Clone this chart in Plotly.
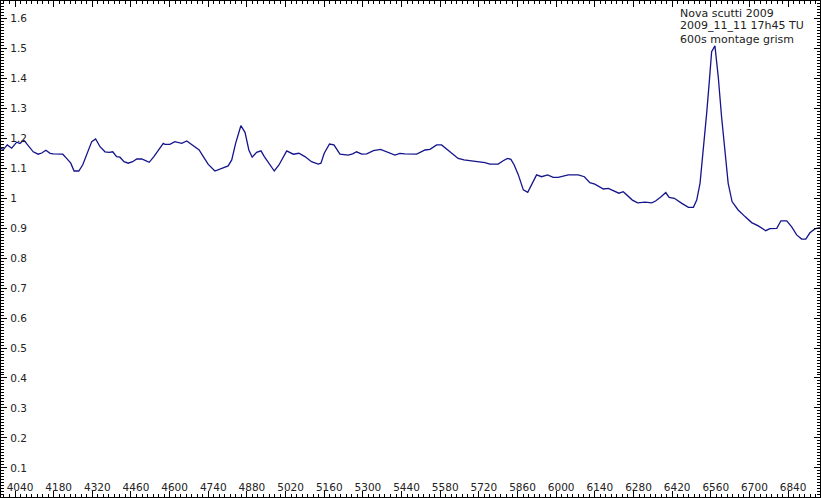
import plotly.graph_objs as go

# spectrum (wavelength in Angstrom, relative flux)
wavelength = [3986, 3998, 4012, 4028, 4046, 4058, 4072, 4082, 4106, 4124,
              4137, 4152, 4167, 4179, 4213, 4227, 4242, 4254, 4271, 4285,
              4302, 4318, 4332, 4348, 4366, 4381, 4394, 4408, 4420, 4435,
              4450, 4466, 4481, 4499, 4517, 4526, 4543, 4559, 4577, 4583,
              4601, 4619, 4644, 4662, 4674, 4692, 4707, 4722, 4740, 4764,
              4782, 4800, 4812, 4825, 4839, 4858, 4873, 4887, 4899, 4915,
              4931, 4943, 4963, 4979, 4996, 5024, 5048, 5068, 5090, 5114,
              5138, 5148, 5160, 5179, 5195, 5217, 5247, 5263, 5277, 5296,
              5314, 5338, 5364, 5386, 5416, 5434, 5452, 5495, 5525, 5543,
              5567, 5585, 5615, 5645, 5666, 5688, 5718, 5742, 5760, 5775,
              5790, 5808, 5824, 5836, 5848, 5863, 5881, 5897, 5913, 5929,
              5947, 5969, 5989, 6007, 6044, 6080, 6102, 6122, 6140, 6171,
              6189, 6210, 6227, 6243, 6261, 6276, 6295, 6322, 6346, 6360,
              6380, 6397, 6409, 6428, 6455, 6479, 6497, 6509, 6521, 6533,
              6545, 6555, 6563, 6575, 6587, 6599, 6611, 6623, 6637, 6659,
              6684, 6708, 6732, 6759, 6774, 6799, 6814, 6835, 6853, 6871,
              6889, 6904, 6919, 6937, 6955]
flux = [1.166, 1.162, 1.177, 1.166, 1.186, 1.182, 1.193, 1.182, 1.154, 1.146,
        1.150, 1.159, 1.149, 1.147, 1.146, 1.132, 1.116, 1.090, 1.090, 1.110,
        1.154, 1.188, 1.197, 1.171, 1.154, 1.152, 1.154, 1.138, 1.136, 1.121,
        1.116, 1.121, 1.130, 1.130, 1.123, 1.119, 1.138, 1.160, 1.182, 1.179,
        1.179, 1.188, 1.182, 1.190, 1.182, 1.168, 1.160, 1.138, 1.112, 1.090,
        1.096, 1.102, 1.107, 1.127, 1.182, 1.241, 1.219, 1.160, 1.136, 1.152,
        1.157, 1.138, 1.110, 1.090, 1.110, 1.157, 1.146, 1.149, 1.138, 1.121,
        1.113, 1.116, 1.149, 1.180, 1.177, 1.146, 1.143, 1.147, 1.154, 1.146,
        1.147, 1.158, 1.162, 1.154, 1.143, 1.149, 1.147, 1.146, 1.160, 1.162,
        1.177, 1.177, 1.154, 1.132, 1.127, 1.124, 1.119, 1.118, 1.113, 1.113,
        1.113, 1.124, 1.132, 1.129, 1.110, 1.077, 1.027, 1.019, 1.049, 1.077,
        1.071, 1.077, 1.069, 1.069, 1.077, 1.077, 1.071, 1.051, 1.046, 1.030,
        1.032, 1.024, 1.016, 1.021, 1.007, 0.993, 0.984, 0.986, 0.984, 0.990,
        1.004, 1.018, 1.002, 0.999, 0.982, 0.969, 0.969, 0.993, 1.049, 1.160,
        1.282, 1.393, 1.488, 1.507, 1.404, 1.271, 1.149, 1.049, 0.988, 0.960,
        0.938, 0.918, 0.907, 0.891, 0.898, 0.899, 0.924, 0.924, 0.904, 0.877,
        0.863, 0.863, 0.884, 0.897, 0.901]

x_ticks = list(range(4040, 6841, 140))
y_ticks = [0.1, 0.2, 0.3, 0.4, 0.5, 0.6, 0.7, 0.8, 0.9, 1.0,
           1.1, 1.2, 1.3, 1.4, 1.5, 1.6]
# labels are right-aligned, so "1" gets non-breaking spaces to start where "1.6" starts
y_labels = ["0.1", "0.2", "0.3", "0.4", "0.5", "0.6", "0.7", "0.8", "0.9",
            "1\u00a0\u00a0\u00a0", "1.1", "1.2", "1.3", "1.4", "1.5", "1.6"]
caption = ["Nova scutti 2009", "2009_11_11 17h45 TU", "600s montage grism"]

tick_font = dict(family="DejaVu Sans", size=10.5, color="#222222")

fig = go.Figure()
fig.add_trace(go.Scatter(
    x=wavelength, y=flux, mode="lines",
    line=dict(color="#14148c", width=1.3),
    hoverinfo="skip", showlegend=False,
))

# tick labels are drawn "outside" and pulled back into the frame with negative standoffs
fig.update_xaxes(
    range=[3989.3, 6955.5], automargin=False,
    tickvals=x_ticks, ticktext=[str(v) for v in x_ticks],
    ticks="inside", ticklen=6, tickwidth=1, tickcolor="black",
    ticklabelposition="outside", ticklabelstandoff=-21, ticklabelshift=5,
    minor=dict(dtick=20, tick0=4040, ticks="inside", ticklen=3, tickcolor="black"),
    showline=True, linecolor="black", linewidth=2, mirror="ticks",
    showgrid=False, zeroline=False, tickfont=tick_font,
)
fig.update_yaxes(
    range=[0.0033, 1.6567], automargin=False,
    tickvals=y_ticks, ticktext=y_labels,
    ticks="inside", ticklen=6, tickwidth=1, tickcolor="black",
    ticklabelposition="outside", ticklabelstandoff=-30,
    minor=dict(dtick=0.01, tick0=0, ticks="inside", ticklen=3, tickcolor="black"),
    showline=True, linecolor="black", linewidth=2, mirror="ticks",
    showgrid=False, zeroline=False, tickfont=tick_font,
)

for i, line in enumerate(caption):
    fig.add_annotation(
        text=line, xref="paper", yref="paper",
        x=0.8266, y=[0.9758, 0.9496, 0.9224][i],
        xanchor="left", yanchor="middle", showarrow=False,
        font=dict(family="DejaVu Sans", size=11, color="#222222"),
    )

fig.update_layout(
    width=821, height=498,
    margin=dict(l=1, r=1, t=1, b=1),
    paper_bgcolor="white", plot_bgcolor="white",
)

# page body has an 8px default margin; drop it so the frame sits at the window edge
fig.write_html("out.html", config={"displayModeBar": False},
               post_script="document.body.style.margin='0px';")
